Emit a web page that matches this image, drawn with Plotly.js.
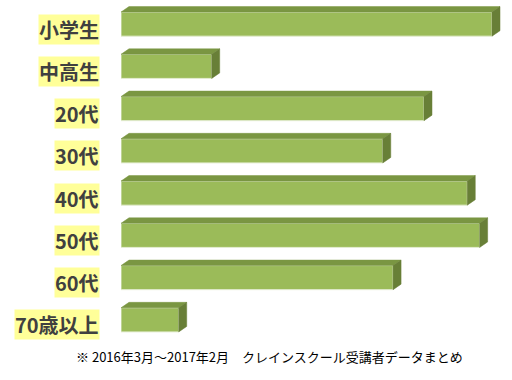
<!DOCTYPE html>
<html><head><meta charset="utf-8">
<script src="https://cdn.plot.ly/plotly-3.0.1.min.js"></script>
<style>html,body{margin:0;padding:0;background:#fff}</style>
</head><body>
<div id="chart" style="width:512px;height:380px"></div>
<script>
// Data
const categories = ["小学生", "中高生", "20代", "30代", "40代", "50代", "60代", "70歳以上"];
const shares = [18.0, 4.4, 14.7, 12.7, 16.8, 17.4, 13.2, 2.8];
const footnote = "※ 2016年3月～2017年2月　クレインスクール受講者データまとめ";

// Layout / style
const W = 512, H = 380;
const M = {l: 121, r: 0, t: 3, b: 39};
const plotW = W - M.l - M.r, plotH = H - M.t - M.b;
const xMax = 18.97;
const barW = 0.57;
const perCat = plotH / categories.length;
const dx = 8 * xMax / plotW;      // depth offset in data units (x)
const dy = 5.5 / perCat;          // depth offset in data units (y, reversed axis)
const frontCol = "#9BBB59", topCol = "#7A9642", sideCol = "#687F37";

const idx = categories.map((_, i) => i);
const traces = [{
  type: "bar", orientation: "h", x: shares, y: idx, width: barW,
  marker: {color: frontCol, line: {color: "#E4EDD2", width: 1}},
  hoverinfo: "skip"
}];
idx.forEach(i => {
  const v = shares[i], y0 = i - barW / 2, y1 = i + barW / 2;
  traces.push({
    type: "scatter", mode: "lines", fill: "toself", fillcolor: topCol,
    line: {color: topCol, width: 0.5}, hoverinfo: "skip",
    x: [0, v, v + dx, dx, 0], y: [y0, y0, y0 - dy, y0 - dy, y0]
  });
  traces.push({
    type: "scatter", mode: "lines", fill: "toself", fillcolor: sideCol,
    line: {color: sideCol, width: 0.5}, hoverinfo: "skip",
    x: [v, v + dx, v + dx, v, v], y: [y0, y0 - dy, y1 - dy, y1, y0]
  });
});

const annotations = categories.map((c, i) => ({
  text: c, xref: "paper", x: 0, xanchor: "right", xshift: -21,
  yref: "y", y: i, yanchor: "middle", yshift: -5,
  showarrow: false, bgcolor: "#FFFF99", borderpad: 0,
  font: {family: "Noto Sans CJK JP", size: 20, color: "#404040", weight: "bold"}
}));
annotations.push({
  text: footnote, xref: "paper", x: (269 - M.l) / plotW, xanchor: "center",
  yref: "paper", y: 0, yanchor: "middle", yshift: -15, showarrow: false,
  font: {family: "Noto Sans CJK JP", size: 13, color: "#000000"}
});

const layout = {
  width: W, height: H, margin: M, showlegend: false,
  paper_bgcolor: "#ffffff", plot_bgcolor: "#ffffff",
  xaxis: {range: [0, xMax], visible: false, fixedrange: true},
  yaxis: {range: [categories.length - 0.5, -0.5], visible: false, fixedrange: true},
  annotations: annotations
};
Plotly.newPlot("chart", traces, layout, {staticPlot: true, displayModeBar: false});
</script>
</body></html>
